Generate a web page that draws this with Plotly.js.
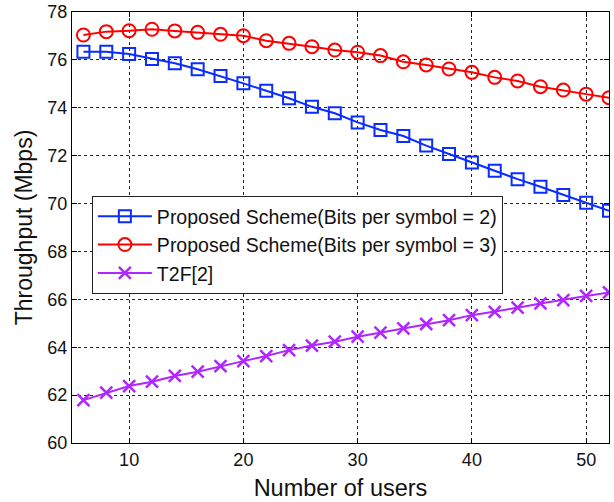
<!DOCTYPE html>
<html>
<head>
<meta charset="utf-8">
<script src="https://cdn.plot.ly/plotly-3.0.1.min.js"></script>
<style>
  html, body { margin: 0; padding: 0; background: #fff; }
  #chart { width: 614px; height: 502px; }
</style>
</head>
<body>
<div id="chart"></div>
<script>
const users = [6, 8, 10, 12, 14, 16, 18, 20, 22, 24, 26, 28, 30, 32, 34, 36, 38, 40, 42, 44, 46, 48, 50, 52];
const bps2 = [76.34, 76.34, 76.25, 76.04, 75.86, 75.61, 75.33, 75.02, 74.71, 74.40, 74.04, 73.77, 73.39, 73.07, 72.82, 72.42, 72.07, 71.71, 71.37, 71.02, 70.70, 70.36, 70.03, 69.70];
const bps3 = [77.04, 77.18, 77.22, 77.28, 77.21, 77.15, 77.07, 77.01, 76.80, 76.69, 76.55, 76.41, 76.32, 76.18, 75.92, 75.79, 75.62, 75.48, 75.27, 75.12, 74.88, 74.74, 74.57, 74.42];
const t2f = [61.79, 62.10, 62.38, 62.56, 62.80, 62.98, 63.21, 63.42, 63.63, 63.88, 64.07, 64.23, 64.44, 64.61, 64.79, 64.97, 65.13, 65.34, 65.48, 65.65, 65.83, 65.97, 66.14, 66.29];
const names = ['Proposed Scheme(Bits per symbol = 2)', 'Proposed Scheme(Bits per symbol = 3)', 'T2F[2]'];
const xTicks = [10, 20, 30, 40, 50];
const yTicks = [60, 62, 64, 66, 68, 70, 72, 74, 76, 78];

const FONT = 'Liberation Sans, Arial, sans-serif';

const traces = [
  {
    x: users, y: bps2, name: names[0], type: 'scatter', mode: 'lines+markers',
    line: { color: '#0a2cff', width: 2 },
    marker: { symbol: 'square-open', size: 12, color: '#0a2cff', line: { width: 2, color: '#0a2cff' } }
  },
  {
    x: users, y: bps3, name: names[1], type: 'scatter', mode: 'lines+markers',
    line: { color: '#ff0000', width: 2 },
    marker: { symbol: 'circle-open', size: 13, color: '#ff0000', line: { width: 2, color: '#ff0000' } }
  },
  {
    x: users, y: t2f, name: names[2], type: 'scatter', mode: 'lines+markers',
    line: { color: '#b026ff', width: 2 },
    marker: { symbol: 'x-thin', size: 12, color: '#b026ff', line: { width: 2.5, color: '#b026ff' } }
  }
];

const axisCommon = {
  showline: true, linecolor: '#000', linewidth: 1, mirror: 'ticks',
  ticks: 'inside', ticklen: 5, tickcolor: '#000', tickwidth: 1,
  showgrid: true, gridcolor: '#222', griddash: 'dot', gridwidth: 1,
  zeroline: false,
  tickfont: { family: FONT, size: 18, color: '#111' }
};

// paper-coordinate helpers for the legend shadow (plot area: 72..609 x, 12..443 y)
const px = v => (v - 72) / 537;
const py = v => (443 - v) / 431;

const layout = {
  width: 614, height: 502,
  margin: { l: 72, r: 5, t: 12, b: 59 },
  paper_bgcolor: '#fff', plot_bgcolor: '#fff',
  font: { family: FONT, color: '#111' },
  showlegend: true,
  xaxis: Object.assign({}, axisCommon, {
    range: [5, 52], tickvals: xTicks, ticktext: xTicks.map(String),
    title: { text: 'Number of users', font: { family: FONT, size: 23.5, color: '#111' }, standoff: 10 }
  }),
  yaxis: Object.assign({}, axisCommon, {
    range: [60, 78], tickvals: yTicks, ticktext: yTicks.map(String),
    title: { text: 'Throughput (Mbps)', font: { family: FONT, size: 23, color: '#111' }, standoff: 8 }
  }),
  legend: {
    x: 0.037, y: 0.573, xanchor: 'left', yanchor: 'top',
    bgcolor: '#fff', bordercolor: '#222', borderwidth: 1,
    font: { family: FONT, size: 19.5, color: '#111' },
    itemwidth: 54, tracegroupgap: 0
  },
  shapes: [
    {
      type: 'rect', xref: 'paper', yref: 'paper',
      x0: px(95), x1: px(503), y0: py(294), y1: py(199),
      fillcolor: '#8a8a8a', line: { width: 0 }, layer: 'above'
    }
  ]
};

Plotly.newPlot('chart', traces, layout, { displayModeBar: false, staticPlot: true });
</script>
</body>
</html>
